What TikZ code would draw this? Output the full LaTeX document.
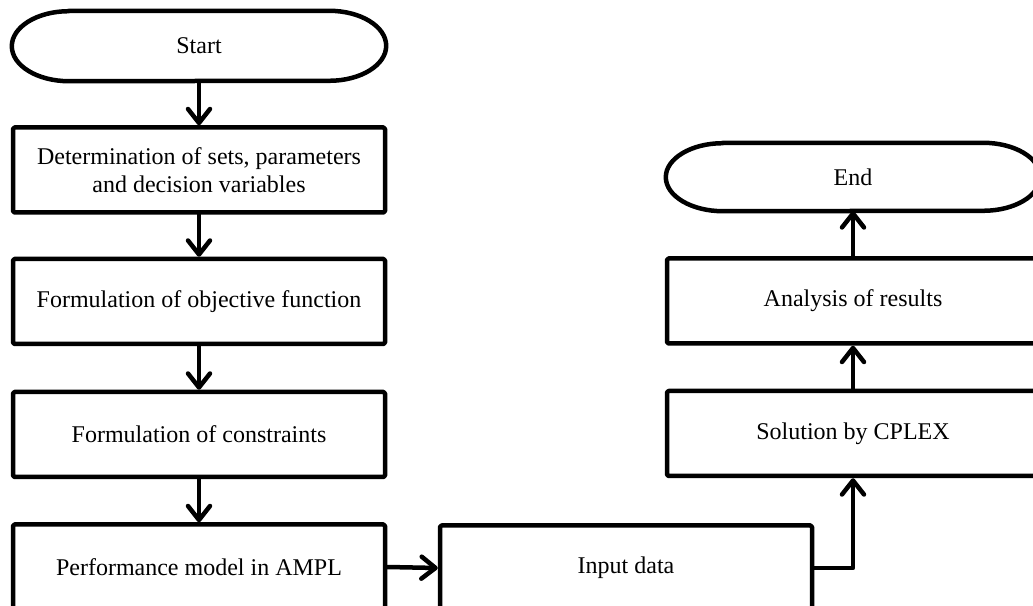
\documentclass[tikz,border=0pt]{standalone}
\usepackage{fontspec}
\setmainfont{Liberation Serif}
\usetikzlibrary{arrows.meta}
\begin{document}
\begin{tikzpicture}[x=1pt,y=1pt,
  lw/.style={line width=4.5pt,line cap=round,line join=round},
  box/.style={lw,draw,rectangle,rounded corners=1.5pt,minimum width=372pt,minimum height=85pt,inner sep=0pt,align=center,font=\fontsize{24}{28}\selectfont},
  term/.style={rectangle,minimum width=374pt,minimum height=70pt,inner sep=0pt,align=center,font=\fontsize{24}{28}\selectfont},
  arr/.style={lw,-{Straight Barb[length=14pt,width=22pt,round]}}]
\useasboundingbox (0,0) rectangle (1033,605);
\clip (0,0) rectangle (1033,605);
% left column
\node[term] (start) at (199,559) {Start};
\draw[lw] ([xshift=57pt]start.north west) -- ([xshift=-57pt]start.north east)
  arc[start angle=90,end angle=-90,x radius=57,y radius=35]
  -- ([xshift=57pt]start.south west)
  arc[start angle=270,end angle=90,x radius=57,y radius=35] -- cycle;
\node[box] (det) at (199,435) {Determination of sets, parameters\\and decision variables};
\node[box] (obj) at (199,303.5) {Formulation of objective function};
\node[box] (con) at (199,170.5) {Formulation of constraints};
\node[box] (ampl) at (199,38) {Performance model in AMPL};
% middle
\node[box] (inp) at (626,37) {Input data};
% right column
\node[term,minimum height=68pt] (end) at (853,428) {End};
\draw[lw] ([xshift=57pt]end.north west) -- ([xshift=-57pt]end.north east)
  arc[start angle=90,end angle=-90,x radius=57,y radius=34]
  -- ([xshift=57pt]end.south west)
  arc[start angle=270,end angle=90,x radius=57,y radius=34] -- cycle;
\node[box] (ana) at (853,304) {Analysis of results};
\node[box] (sol) at (853,171.5) {Solution by CPLEX};
% connectors
\draw[arr] (start.south) -- (det.north);
\draw[arr] (det.south) -- (obj.north);
\draw[arr] (obj.south) -- (con.north);
\draw[arr] (con.south) -- (ampl.north);
\draw[arr] (ampl.east) -- (inp.west);
\draw[arr] (inp.east) -| (sol.south);
\draw[arr] (sol.north) -- (ana.south);
\draw[arr] (ana.north) -- (end.south);
\end{tikzpicture}
\end{document}
